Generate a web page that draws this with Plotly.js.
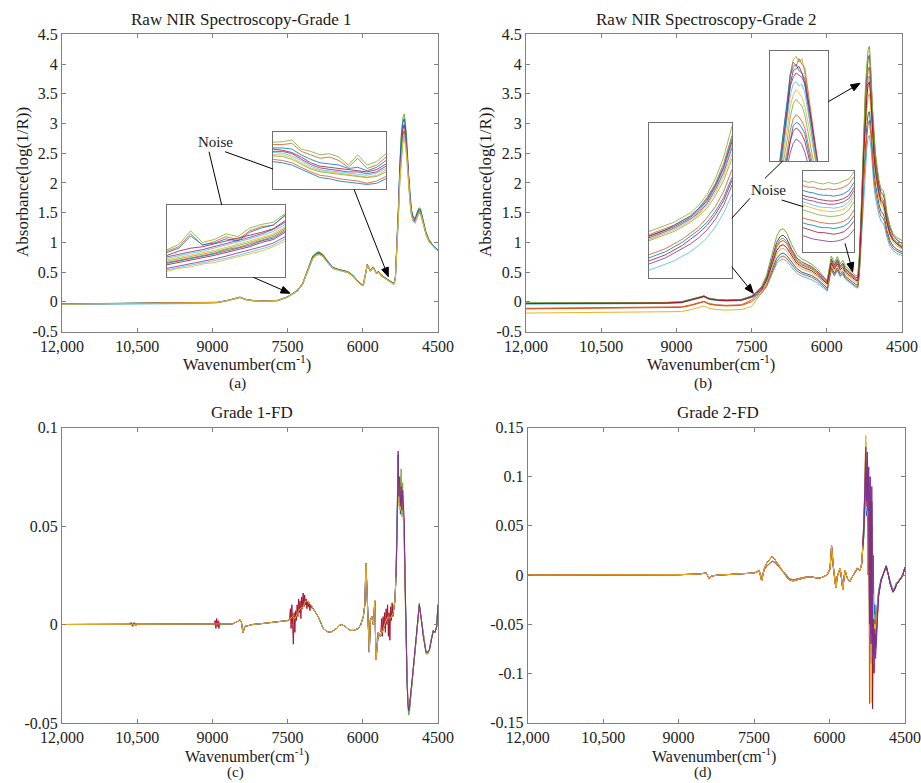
<!DOCTYPE html>
<html><head><meta charset="utf-8">
<script src="https://cdn.plot.ly/plotly-3.0.1.min.js"></script>
<style>html,body{margin:0;padding:0;background:#fff}</style>
</head><body><div id="chart" style="width:921px;height:783px"></div>
<script>
// ---------------- DATA ----------------
const X_TICK_VALS = [12000, 10500, 9000, 7500, 6000, 4500];
const X_TICK_TEXT = ['12,000', '10,500', '9000', '7500', '6000', '4500'];
const RAW_Y_TICK_VALS = [-0.5, 0, 0.5, 1, 1.5, 2, 2.5, 3, 3.5, 4, 4.5];
const RAW_Y_TICK_TEXT = ['-0.5', '0', '0.5', '1', '1.5', '2', '2.5', '3', '3.5', '4', '4.5'];
const C_Y_TICK_VALS = [-0.05, 0, 0.05, 0.1];
const C_Y_TICK_TEXT = ['-0.05', '0', '0.05', '0.1'];
const D_Y_TICK_VALS = [-0.15, -0.1, -0.05, 0, 0.05, 0.1, 0.15];
const D_Y_TICK_TEXT = ['-0.15', '-0.1', '-0.05', '0', '0.05', '0.1', '0.15'];

// wavenumbers (cm-1) for raw spectra
const WN_RAW = [12000, 11000, 10000, 9200, 8900, 8700, 8550, 8450, 8350, 8200,
  8000, 7700, 7500, 7400, 7300, 7200, 7100, 7000, 6930, 6870,
  6800, 6700, 6600, 6500, 6400, 6300, 6200, 6100, 6030, 5990,
  5950, 5910, 5850, 5790, 5730, 5680, 5630, 5560, 5480, 5420,
  5380, 5350, 5320, 5290, 5260, 5230, 5200, 5175, 5150, 5120,
  5090, 5060, 5030, 5000, 4960, 4920, 4880, 4850, 4800, 4740,
  4680, 4600, 4500];

// Grade 1 raw absorbance
const G1_S1 = [-0.035, -0.03, -0.025, -0.02, -0.008, 0.025, 0.055, 0.08, 0.045, 0.025,
  0.015, 0.025, 0.085, 0.135, 0.2, 0.31, 0.54, 0.77, 0.83, 0.84,
  0.8, 0.68, 0.58, 0.55, 0.53, 0.51, 0.45, 0.35, 0.3, 0.29,
  0.46, 0.63, 0.53, 0.59, 0.49, 0.51, 0.45, 0.41, 0.36, 0.32,
  0.31, 0.42, 0.9, 1.6, 2.35, 2.85, 3.1, 3.16, 3.02, 2.7,
  2.2, 1.82, 1.56, 1.45, 1.4, 1.5, 1.58, 1.57, 1.39, 1.18,
  1.05, 0.95, 0.87];
const G1_S2 = [-0.038, -0.033, -0.028, -0.023, -0.01, 0.022, 0.052, 0.077, 0.042, 0.022,
  0.012, 0.022, 0.082, 0.132, 0.195, 0.305, 0.53, 0.755, 0.815, 0.83,
  0.79, 0.67, 0.575, 0.545, 0.525, 0.505, 0.445, 0.345, 0.295, 0.285,
  0.455, 0.625, 0.525, 0.585, 0.485, 0.505, 0.445, 0.405, 0.355, 0.315,
  0.305, 0.41, 0.88, 1.56, 2.3, 2.78, 3.02, 3.08, 2.95, 2.63,
  2.16, 1.79, 1.53, 1.43, 1.38, 1.48, 1.56, 1.55, 1.37, 1.16,
  1.04, 0.945, 0.865];
const G1_S3 = [-0.04, -0.035, -0.03, -0.025, -0.012, 0.02, 0.05, 0.075, 0.04, 0.02,
  0.01, 0.02, 0.08, 0.13, 0.19, 0.3, 0.52, 0.74, 0.8, 0.815,
  0.78, 0.66, 0.57, 0.54, 0.52, 0.5, 0.44, 0.34, 0.29, 0.28,
  0.45, 0.62, 0.52, 0.58, 0.48, 0.5, 0.44, 0.4, 0.35, 0.31,
  0.3, 0.4, 0.85, 1.5, 2.2, 2.65, 2.9, 2.98, 2.85, 2.55,
  2.1, 1.75, 1.5, 1.4, 1.36, 1.45, 1.53, 1.52, 1.35, 1.15,
  1.03, 0.94, 0.86];
const G1_S4 = [-0.042, -0.037, -0.032, -0.027, -0.014, 0.018, 0.048, 0.073, 0.038, 0.018,
  0.008, 0.018, 0.078, 0.128, 0.185, 0.295, 0.51, 0.73, 0.79, 0.805,
  0.77, 0.655, 0.565, 0.535, 0.515, 0.495, 0.435, 0.335, 0.285, 0.275,
  0.445, 0.615, 0.515, 0.575, 0.475, 0.495, 0.435, 0.395, 0.345, 0.305,
  0.295, 0.39, 0.82, 1.45, 2.12, 2.55, 2.8, 2.88, 2.76, 2.48,
  2.05, 1.72, 1.48, 1.38, 1.34, 1.43, 1.51, 1.5, 1.33, 1.14,
  1.02, 0.935, 0.855];
const G1_S5 = [-0.045, -0.04, -0.035, -0.03, -0.016, 0.016, 0.046, 0.07, 0.036, 0.016,
  0.006, 0.016, 0.075, 0.125, 0.18, 0.29, 0.5, 0.72, 0.78, 0.795,
  0.76, 0.65, 0.56, 0.53, 0.51, 0.49, 0.43, 0.33, 0.28, 0.27,
  0.44, 0.61, 0.51, 0.57, 0.47, 0.49, 0.43, 0.39, 0.34, 0.3,
  0.29, 0.38, 0.8, 1.42, 2.07, 2.48, 2.73, 2.8, 2.69, 2.42,
  2.0, 1.69, 1.46, 1.36, 1.32, 1.41, 1.49, 1.48, 1.32, 1.13,
  1.01, 0.93, 0.85];
const G1_S6 = [-0.04, -0.035, -0.03, -0.025, -0.012, 0.02, 0.05, 0.074, 0.04, 0.02,
  0.01, 0.02, 0.08, 0.13, 0.19, 0.3, 0.51, 0.73, 0.785, 0.8,
  0.77, 0.655, 0.565, 0.535, 0.515, 0.495, 0.435, 0.335, 0.285, 0.278,
  0.448, 0.618, 0.518, 0.578, 0.478, 0.498, 0.438, 0.398, 0.348, 0.308,
  0.298, 0.39, 0.8, 1.4, 2.05, 2.45, 2.68, 2.74, 2.64, 2.38,
  1.98, 1.68, 1.46, 1.37, 1.34, 1.43, 1.51, 1.5, 1.33, 1.14,
  1.02, 0.935, 0.855];

// Grade 2 raw absorbance
const G2_S1 = [-0.02, -0.02, -0.015, -0.01, 0.0, 0.04, 0.07, 0.1, 0.06, 0.04,
  0.03, 0.04, 0.1, 0.17, 0.26, 0.45, 0.78, 1.1, 1.21, 1.23,
  1.16, 0.96, 0.8, 0.72, 0.68, 0.63, 0.56, 0.46, 0.39, 0.37,
  0.58, 0.77, 0.66, 0.76, 0.64, 0.7, 0.6, 0.55, 0.48, 0.44,
  0.45, 0.8, 1.4, 2.2, 3.0, 3.6, 4.0, 4.25, 4.3, 3.9,
  3.3, 2.85, 2.5, 2.3, 2.05, 1.9, 1.88, 1.8, 1.5, 1.28,
  1.15, 1.08, 1.03];
const G2_S2 = [-0.025, -0.025, -0.02, -0.015, -0.005, 0.035, 0.065, 0.095, 0.055, 0.035,
  0.025, 0.035, 0.09, 0.16, 0.24, 0.41, 0.71, 1.0, 1.1, 1.12,
  1.06, 0.88, 0.74, 0.67, 0.63, 0.59, 0.52, 0.43, 0.36, 0.34,
  0.54, 0.72, 0.62, 0.71, 0.6, 0.65, 0.56, 0.51, 0.45, 0.41,
  0.41, 0.74, 1.32, 2.1, 2.88, 3.47, 3.86, 4.1, 4.15, 3.78,
  3.2, 2.75, 2.42, 2.22, 1.98, 1.84, 1.81, 1.73, 1.45, 1.24,
  1.12, 1.04, 0.98];
const G2_S3 = [-0.11, -0.105, -0.1, -0.095, -0.085, -0.05, -0.02, 0.01, -0.03, -0.05,
  -0.06, -0.05, 0.03, 0.11, 0.2, 0.38, 0.65, 0.92, 1.01, 1.03,
  0.98, 0.82, 0.69, 0.62, 0.59, 0.55, 0.49, 0.4, 0.34, 0.32,
  0.5, 0.68, 0.58, 0.67, 0.57, 0.61, 0.53, 0.48, 0.42, 0.38,
  0.37, 0.69, 1.24, 1.98, 2.73, 3.3, 3.68, 3.9, 3.95, 3.62,
  3.05, 2.62, 2.32, 2.12, 1.9, 1.76, 1.72, 1.65, 1.38, 1.18,
  1.07, 1.0, 0.94];
const G2_S4 = [-0.03, -0.03, -0.025, -0.02, -0.01, 0.03, 0.06, 0.09, 0.05, 0.03,
  0.02, 0.03, 0.085, 0.14, 0.21, 0.36, 0.61, 0.86, 0.94, 0.96,
  0.91, 0.77, 0.65, 0.59, 0.56, 0.52, 0.46, 0.38, 0.32, 0.3,
  0.48, 0.65, 0.55, 0.64, 0.54, 0.58, 0.5, 0.46, 0.4, 0.36,
  0.35, 0.64, 1.16, 1.86, 2.56, 3.1, 3.45, 3.66, 3.7, 3.4,
  2.88, 2.48, 2.2, 2.0, 1.82, 1.69, 1.65, 1.58, 1.33, 1.14,
  1.04, 0.97, 0.91];
const G2_S5 = [-0.19, -0.185, -0.18, -0.175, -0.165, -0.13, -0.1, -0.07, -0.11, -0.13,
  -0.14, -0.13, -0.08, 0.04, 0.15, 0.32, 0.57, 0.8, 0.88, 0.9,
  0.85, 0.72, 0.61, 0.55, 0.52, 0.49, 0.43, 0.35, 0.29, 0.27,
  0.45, 0.62, 0.52, 0.61, 0.51, 0.55, 0.47, 0.43, 0.37, 0.33,
  0.32, 0.6, 1.1, 1.76, 2.42, 2.93, 3.26, 3.46, 3.5, 3.22,
  2.75, 2.38, 2.12, 1.93, 1.76, 1.63, 1.6, 1.52, 1.29, 1.11,
  1.01, 0.94, 0.89];
const G2_S6 = [-0.03, -0.03, -0.025, -0.02, -0.01, 0.03, 0.06, 0.09, 0.05, 0.03,
  0.02, 0.03, 0.08, 0.12, 0.18, 0.3, 0.52, 0.73, 0.8, 0.82,
  0.78, 0.66, 0.56, 0.5, 0.47, 0.44, 0.39, 0.31, 0.25, 0.23,
  0.41, 0.58, 0.48, 0.57, 0.47, 0.51, 0.43, 0.39, 0.33, 0.29,
  0.28, 0.54, 1.0, 1.6, 2.2, 2.68, 2.98, 3.16, 3.2, 2.95,
  2.55, 2.2, 1.98, 1.8, 1.64, 1.52, 1.49, 1.42, 1.2, 1.03,
  0.94, 0.88, 0.84];
const G2_S7 = [-0.04, -0.04, -0.035, -0.03, -0.02, 0.02, 0.05, 0.08, 0.04, 0.02,
  0.01, 0.02, 0.07, 0.1, 0.15, 0.25, 0.45, 0.64, 0.7, 0.72,
  0.68, 0.57, 0.48, 0.43, 0.4, 0.37, 0.32, 0.25, 0.2, 0.18,
  0.36, 0.53, 0.43, 0.52, 0.42, 0.46, 0.38, 0.34, 0.28, 0.24,
  0.23, 0.46, 0.88, 1.4, 1.92, 2.34, 2.6, 2.77, 2.8, 2.6,
  2.25, 1.95, 1.75, 1.6, 1.46, 1.36, 1.33, 1.27, 1.08, 0.93,
  0.86, 0.81, 0.78];
const G2_S8 = [-0.12, -0.115, -0.11, -0.105, -0.095, -0.06, -0.03, 0.0, -0.04, -0.06,
  -0.07, -0.06, 0.0, 0.07, 0.14, 0.27, 0.48, 0.68, 0.75, 0.77,
  0.73, 0.62, 0.52, 0.47, 0.44, 0.41, 0.36, 0.28, 0.22, 0.2,
  0.38, 0.55, 0.45, 0.54, 0.44, 0.48, 0.4, 0.36, 0.3, 0.26,
  0.25, 0.5, 0.94, 1.5, 2.06, 2.5, 2.8, 3.0, 3.05, 2.8,
  2.4, 2.08, 1.86, 1.7, 1.55, 1.44, 1.41, 1.35, 1.14, 0.98,
  0.9, 0.85, 0.81];
const G2_S9 = [-0.022, -0.022, -0.017, -0.012, -0.002, 0.038, 0.068, 0.098, 0.058, 0.038,
  0.028, 0.038, 0.095, 0.155, 0.23, 0.39, 0.67, 0.95, 1.05, 1.07,
  1.01, 0.85, 0.71, 0.64, 0.61, 0.57, 0.5, 0.41, 0.35, 0.33,
  0.52, 0.7, 0.6, 0.69, 0.58, 0.63, 0.54, 0.5, 0.43, 0.39,
  0.36, 0.66, 1.2, 1.92, 2.64, 3.18, 3.55, 3.76, 3.8, 3.5,
  2.96, 2.55, 2.26, 2.06, 1.86, 1.72, 1.68, 1.61, 1.35, 1.16,
  1.05, 0.98, 0.92];

// wavenumbers (cm-1) for first-derivative spectra
const WN_FD = [12000, 11000, 10000, 9000, 8600, 8500, 8450, 8420, 8390, 8350,
  8200, 8000, 7700, 7500, 7450, 7400, 7350, 7300, 7250, 7190,
  7140, 7090, 7040, 6990, 6940, 6890, 6840, 6790, 6720, 6650,
  6580, 6520, 6470, 6420, 6350, 6260, 6180, 6090, 6040, 5990,
  5960, 5936, 5915, 5890, 5870, 5850, 5820, 5790, 5760, 5737,
  5710, 5690, 5650, 5600, 5550, 5500, 5450, 5392, 5360, 5338,
  5315, 5295, 5280, 5265, 5250, 5235, 5220, 5205, 5190, 5175,
  5160, 5145, 5130, 5115, 5100, 5085, 5070, 5050, 5024, 4975,
  4925, 4873, 4830, 4793, 4739, 4700, 4673, 4630, 4593, 4560,
  4526, 4500];

// Grade 1 FD: shared part (12000-5338) and per-sample part (5315-4500)
const G1FD_HEAD = [0, 0, 0, 0, 0.0003, 0.0015, 0.0025, 0.001, -0.004, -0.001,
  0, 0.0005, 0.0012, 0.002, 0.003, 0.004, 0.003, 0.006, 0.008, 0.009,
  0.012, 0.0115, 0.01, 0.008, 0.006, 0.004, 0.001, -0.002, -0.0035, -0.004,
  -0.003, -0.002, -0.0005, 0, -0.001, -0.003, -0.003, -0.002, 0, 0.004,
  0.01, 0.031, 0.016, -0.002, -0.014, 0.002, 0.004, 0, 0.012, -0.018,
  -0.008, -0.004, -0.006, -0.003, 0.001, 0.004, 0.003, 0.006, 0.012, 0.024];
const G1FD_TAIL_RED = [0.046, 0.078, 0.062, 0.07, 0.058, 0.068, 0.056, 0.064, 0.054, 0.05,
  0.025, 0.0, -0.018, -0.03, -0.039, -0.042, -0.041, -0.037, -0.031, -0.018,
  -0.005, 0.01, 0.002, -0.006, -0.014, -0.014, -0.013, -0.007, -0.003, -0.004,
  -0.001, 0.01];
const G1FD_TAIL_GREEN = [0.044, 0.076, 0.07, 0.074, 0.065, 0.079, 0.06, 0.072, 0.058, 0.056,
  0.03, 0.004, -0.016, -0.031, -0.042, -0.046, -0.045, -0.039, -0.032, -0.019,
  -0.005, 0.011, 0.002, -0.006, -0.015, -0.015, -0.013, -0.007, -0.003, -0.004,
  -0.001, 0.01];
const G1FD_TAIL_BLUE = [0.05, 0.086, 0.062, 0.072, 0.056, 0.065, 0.055, 0.062, 0.055, 0.052,
  0.028, 0.002, -0.017, -0.03, -0.04, -0.044, -0.043, -0.038, -0.032, -0.018,
  -0.005, 0.01, 0.002, -0.006, -0.014, -0.014, -0.013, -0.007, -0.003, -0.004,
  -0.001, 0.01];
const G1FD_TAIL_PURPLE = [0.048, 0.088, 0.065, 0.075, 0.06, 0.07, 0.058, 0.068, 0.056, 0.054,
  0.026, 0.001, -0.018, -0.031, -0.04, -0.043, -0.042, -0.037, -0.031, -0.018,
  -0.005, 0.01, 0.002, -0.006, -0.014, -0.014, -0.013, -0.007, -0.003, -0.004,
  -0.001, 0.01];
const G1FD_TAIL_YELLOW = [0.045, 0.08, 0.06, 0.075, 0.058, 0.07, 0.055, 0.066, 0.052, 0.05,
  0.025, 0.0, -0.018, -0.03, -0.039, -0.042, -0.041, -0.037, -0.031, -0.018,
  -0.005, 0.01, 0.002, -0.006, -0.014, -0.014, -0.013, -0.007, -0.003, -0.004,
  -0.001, 0.01];
// noisy sample segments in Grade 1 FD
const G1FD_NOISE1_WN = [7460, 7445, 7430, 7415, 7400, 7385, 7370, 7355, 7340, 7325, 7310, 7295, 7280, 7265, 7250, 7235,
  7220, 7205, 7190, 7175, 7160, 7145, 7130, 7115, 7100, 7085, 7070, 7055, 7040, 7025, 7010];
const G1FD_NOISE1 = [0.003, 0.008, -0.002, 0.01, 0.0, -0.01, 0.006, -0.004, 0.007, 0.002, 0.01, 0.004, 0.013, 0.006, 0.012, 0.003,
  0.014, 0.008, 0.016, 0.009, 0.015, 0.01, 0.013, 0.008, 0.012, 0.009, 0.011, 0.007, 0.01, 0.008, 0.008];
const G1FD_NOISE2_WN = [5640, 5625, 5610, 5595, 5580, 5565, 5550, 5535, 5520, 5505, 5490, 5475, 5460, 5445, 5430, 5415, 5400, 5385];
const G1FD_NOISE2 = [-0.004, 0.003, -0.006, 0.004, -0.002, 0.006, -0.004, 0.008, 0.0, 0.01, -0.006, 0.006, -0.008, 0.009, 0.002, 0.011, 0.004, 0.008];
const G1FD_NOISE3_WN = [8960, 8945, 8930, 8915, 8900, 8885, 8870, 8855, 8840];
const G1FD_NOISE3 = [0.0, 0.002, -0.002, 0.003, -0.001, 0.002, -0.002, 0.001, 0.0];
const G1FD_NOISE4_WN = [10650, 10620, 10590, 10560, 10530, 10500];
const G1FD_NOISE4 = [0, 0.001, -0.001, 0.001, -0.0005, 0];

// Grade 2 FD: shared parts (12000-5338) and per-sample part (5315-4500)
const G2FD_HEAD_HI = [0, 0, 0, 0.0003, 0.001, 0.0015, 0.002, -0.001, -0.004, -0.001,
  0, 0.0005, 0.001, 0.002, 0.003, 0.005, -0.006, 0.006, 0.012, 0.016,
  0.019, 0.016, 0.012, 0.008, 0.004, 0.001, -0.003, -0.005, -0.006, -0.005,
  -0.004, -0.003, -0.002, -0.002, -0.002, -0.003, -0.003, -0.001, 0.001, 0.006,
  0.03, 0.012, 0.004, -0.008, -0.013, -0.002, 0.003, 0.007, -0.004, -0.015,
  -0.002, 0.005, -0.003, -0.007, -0.002, 0.002, 0.007, 0.005, 0.012, 0.03];
const G2FD_HEAD_LO = [0, 0, 0, 0.0003, 0.001, 0.0015, 0.002, -0.001, -0.004, -0.001,
  0, 0.0005, 0.001, 0.002, 0.003, 0.004, -0.003, 0.005, 0.009, 0.012,
  0.014, 0.013, 0.01, 0.007, 0.004, 0.001, -0.002, -0.004, -0.005, -0.004,
  -0.003, -0.002, -0.002, -0.002, -0.002, -0.003, -0.003, -0.001, 0.001, 0.006,
  0.028, 0.012, 0.004, -0.008, -0.012, -0.002, 0.003, 0.006, -0.004, -0.014,
  -0.002, 0.004, -0.003, -0.006, -0.002, 0.002, 0.006, 0.005, 0.011, 0.028];
const G2FD_TAIL_BLUE = [0.04, 0.07, 0.09, 0.06, 0.085, 0.055, 0.075, 0.05, 0.06, 0.03,
  0.045, -0.04, 0.02, -0.05, -0.03, -0.045, -0.035, -0.03, -0.015, -0.004,
  0.002, 0.008, 0.0, -0.008, -0.015, -0.012, -0.008, -0.006, -0.003, -0.002,
  0.003, 0.008];
const G2FD_TAIL_CYAN = [0.045, 0.08, 0.1, 0.065, 0.09, 0.06, 0.08, 0.04, 0.07, -0.01,
  0.04, -0.05, -0.02, -0.07, -0.04, -0.05, -0.04, -0.03, -0.017, -0.005,
  0.002, 0.007, 0.0, -0.008, -0.015, -0.012, -0.008, -0.006, -0.003, -0.002,
  0.003, 0.008];
const G2FD_TAIL_ORANGE = [0.05, 0.09, 0.11, 0.07, 0.1, 0.0, 0.09, -0.131, 0.06, -0.05,
  0.03, -0.08, -0.04, -0.06, -0.045, -0.05, -0.04, -0.03, -0.018, -0.005,
  0.003, 0.009, 0.0, -0.009, -0.016, -0.013, -0.009, -0.006, -0.003, -0.002,
  0.003, 0.008];
const G2FD_TAIL_GREEN = [0.05, 0.1, 0.135, 0.08, 0.12, 0.07, 0.1, -0.06, 0.09, -0.08,
  0.06, -0.1, -0.05, -0.09, -0.06, -0.07, -0.05, -0.035, -0.02, -0.005,
  0.002, 0.01, 0.0, -0.01, -0.018, -0.015, -0.01, -0.007, -0.004, -0.002,
  0.003, 0.008];
const G2FD_TAIL_RED = [0.055, 0.09, 0.12, 0.09, 0.11, 0.06, 0.1, -0.04, 0.08, -0.09,
  0.05, -0.136, -0.06, -0.1, -0.07, -0.075, -0.05, -0.035, -0.02, -0.005,
  0.002, 0.009, 0.0, -0.009, -0.017, -0.014, -0.01, -0.007, -0.004, -0.002,
  0.003, 0.008];
const G2FD_TAIL_YELLOW = [0.06, 0.11, 0.142, 0.1, 0.12, 0.06, 0.1, -0.02, 0.085, -0.13,
  0.07, -0.07, -0.03, -0.09, -0.05, -0.06, -0.045, -0.035, -0.02, -0.005,
  0.002, 0.008, 0.0, -0.008, -0.016, -0.013, -0.009, -0.006, -0.003, -0.002,
  0.003, 0.008];
const G2FD_TAIL_PURPLE2 = [0.05, 0.085, 0.115, 0.075, 0.105, 0.065, 0.095, -0.03, 0.085, -0.06,
  0.075, -0.075, -0.045, -0.08, -0.055, -0.075, -0.06, -0.04, -0.02, -0.005,
  0.002, 0.009, 0.0, -0.009, -0.017, -0.014, -0.01, -0.007, -0.004, -0.002,
  0.003, 0.008];
const G2FD_TAIL_PURPLE = [0.055, 0.095, 0.13, 0.09, 0.125, 0.08, 0.11, -0.05, 0.1, -0.07,
  0.09, -0.085, -0.05, -0.09, -0.06, -0.085, -0.07, -0.045, -0.022, -0.006,
  0.002, 0.009, 0.0, -0.009, -0.017, -0.014, -0.01, -0.007, -0.004, -0.002,
  0.003, 0.008];

// Inset (zoomed) views, relative absorbance within each zoom window
const INSET_A1_WN = [7700, 7675, 7650, 7625, 7600, 7575, 7550, 7525, 7500, 7475, 7450];
const INSET_A1_LINES = [
  [0.38, 0.45, 0.64, 0.48, 0.52, 0.6, 0.56, 0.68, 0.73, 0.76, 0.88],
  [0.36, 0.42, 0.6, 0.44, 0.49, 0.56, 0.52, 0.64, 0.7, 0.72, 0.85],
  [0.34, 0.4, 0.57, 0.45, 0.47, 0.53, 0.5, 0.62, 0.68, 0.72, 0.86],
  [0.3, 0.36, 0.4, 0.42, 0.46, 0.5, 0.53, 0.58, 0.62, 0.67, 0.78],
  [0.28, 0.32, 0.35, 0.38, 0.42, 0.46, 0.5, 0.55, 0.6, 0.66, 0.76],
  [0.26, 0.3, 0.33, 0.36, 0.4, 0.44, 0.48, 0.53, 0.58, 0.63, 0.73],
  [0.24, 0.27, 0.3, 0.33, 0.37, 0.41, 0.45, 0.5, 0.55, 0.6, 0.7],
  [0.22, 0.25, 0.29, 0.32, 0.35, 0.39, 0.43, 0.48, 0.53, 0.58, 0.68],
  [0.2, 0.23, 0.27, 0.3, 0.33, 0.38, 0.41, 0.46, 0.51, 0.56, 0.66],
  [0.19, 0.22, 0.25, 0.28, 0.32, 0.36, 0.4, 0.44, 0.5, 0.54, 0.64],
  [0.17, 0.2, 0.23, 0.26, 0.3, 0.34, 0.38, 0.42, 0.48, 0.52, 0.62],
  [0.12, 0.15, 0.18, 0.22, 0.25, 0.29, 0.33, 0.38, 0.42, 0.47, 0.56],
  [0.1, 0.13, 0.16, 0.2, 0.22, 0.26, 0.3, 0.34, 0.39, 0.44, 0.53],
  [0.08, 0.12, 0.14, 0.18, 0.2, 0.24, 0.28, 0.31, 0.36, 0.42, 0.5]];
const INSET_A2_WN = [5470, 5460, 5450, 5440, 5430, 5420, 5410, 5400, 5390, 5380, 5370, 5360, 5350];
const INSET_A2_LINES = [
  [0.82, 0.83, 0.86, 0.7, 0.66, 0.6, 0.62, 0.56, 0.42, 0.6, 0.42, 0.48, 0.62],
  [0.78, 0.78, 0.8, 0.66, 0.6, 0.54, 0.56, 0.5, 0.38, 0.54, 0.36, 0.42, 0.56],
  [0.72, 0.72, 0.7, 0.6, 0.52, 0.46, 0.44, 0.42, 0.36, 0.38, 0.32, 0.38, 0.5],
  [0.7, 0.68, 0.64, 0.56, 0.46, 0.4, 0.38, 0.36, 0.34, 0.33, 0.3, 0.34, 0.44],
  [0.66, 0.66, 0.62, 0.52, 0.43, 0.37, 0.35, 0.32, 0.3, 0.3, 0.27, 0.3, 0.4],
  [0.64, 0.63, 0.58, 0.5, 0.4, 0.34, 0.32, 0.3, 0.28, 0.27, 0.24, 0.28, 0.36],
  [0.6, 0.6, 0.55, 0.46, 0.37, 0.32, 0.3, 0.27, 0.25, 0.24, 0.21, 0.24, 0.33],
  [0.58, 0.57, 0.52, 0.44, 0.35, 0.3, 0.28, 0.25, 0.23, 0.22, 0.2, 0.22, 0.3],
  [0.52, 0.5, 0.46, 0.38, 0.3, 0.24, 0.22, 0.18, 0.16, 0.14, 0.1, 0.14, 0.22],
  [0.48, 0.46, 0.42, 0.35, 0.27, 0.2, 0.18, 0.14, 0.12, 0.1, 0.08, 0.1, 0.18]];
const INSET_B1_WN = [7650, 7620, 7590, 7560, 7530, 7500, 7470, 7440, 7410, 7380, 7350];
const INSET_B1_LINES = [
  [0.3, 0.32, 0.34, 0.36, 0.39, 0.42, 0.47, 0.54, 0.64, 0.78, 0.98],
  [0.28, 0.3, 0.32, 0.34, 0.37, 0.4, 0.45, 0.52, 0.61, 0.74, 0.92],
  [0.27, 0.29, 0.31, 0.34, 0.37, 0.4, 0.45, 0.51, 0.6, 0.72, 0.9],
  [0.27, 0.29, 0.31, 0.33, 0.36, 0.39, 0.44, 0.5, 0.59, 0.71, 0.88],
  [0.26, 0.28, 0.3, 0.32, 0.35, 0.38, 0.42, 0.48, 0.57, 0.68, 0.84],
  [0.25, 0.27, 0.3, 0.32, 0.35, 0.38, 0.43, 0.49, 0.58, 0.7, 0.86],
  [0.25, 0.27, 0.29, 0.31, 0.34, 0.37, 0.41, 0.47, 0.55, 0.66, 0.8],
  [0.24, 0.26, 0.28, 0.3, 0.33, 0.36, 0.4, 0.45, 0.53, 0.63, 0.77],
  [0.15, 0.17, 0.19, 0.22, 0.25, 0.29, 0.33, 0.39, 0.46, 0.56, 0.7],
  [0.13, 0.15, 0.17, 0.2, 0.23, 0.27, 0.31, 0.36, 0.43, 0.52, 0.65],
  [0.11, 0.13, 0.15, 0.18, 0.21, 0.25, 0.29, 0.34, 0.41, 0.5, 0.63],
  [0.09, 0.11, 0.13, 0.16, 0.19, 0.22, 0.26, 0.31, 0.38, 0.47, 0.6],
  [0.05, 0.07, 0.09, 0.11, 0.14, 0.17, 0.21, 0.26, 0.33, 0.42, 0.54]];
const INSET_B2_WN = [5230, 5210, 5190, 5180, 5170, 5160, 5150, 5140, 5130, 5110, 5090, 5070];
const INSET_B2_LINES = [
  [-0.3, 0.1, 0.55, 0.8, 0.92, 0.95, 0.9, 0.93, 0.8, 0.4, 0.0, -0.3],
  [-0.3, 0.05, 0.5, 0.78, 0.9, 0.86, 0.93, 0.88, 0.85, 0.45, 0.05, -0.3],
  [-0.3, 0.15, 0.6, 0.78, 0.85, 0.88, 0.82, 0.8, 0.7, 0.3, -0.05, -0.3],
  [-0.3, 0.0, 0.45, 0.7, 0.82, 0.84, 0.86, 0.8, 0.74, 0.42, 0.05, -0.3],
  [-0.3, 0.05, 0.48, 0.68, 0.76, 0.8, 0.78, 0.76, 0.7, 0.4, 0.02, -0.3],
  [-0.3, 0.0, 0.4, 0.6, 0.7, 0.72, 0.68, 0.7, 0.62, 0.3, -0.02, -0.3],
  [-0.3, -0.05, 0.3, 0.5, 0.6, 0.65, 0.62, 0.58, 0.5, 0.2, -0.1, -0.3],
  [-0.3, -0.1, 0.2, 0.4, 0.52, 0.56, 0.53, 0.5, 0.42, 0.12, -0.15, -0.3],
  [-0.3, -0.15, 0.1, 0.28, 0.38, 0.42, 0.4, 0.36, 0.3, 0.05, -0.2, -0.3],
  [-0.3, -0.2, 0.05, 0.2, 0.32, 0.35, 0.34, 0.3, 0.25, 0.0, -0.25, -0.3],
  [-0.3, -0.2, 0.02, 0.18, 0.27, 0.3, 0.28, 0.24, 0.18, -0.02, -0.25, -0.3],
  [-0.3, -0.25, -0.05, 0.08, 0.16, 0.2, 0.18, 0.15, 0.08, -0.1, -0.3, -0.3]];
const INSET_B3_WN = [5480, 5470, 5460, 5450, 5440, 5430, 5420, 5410, 5400, 5390, 5380];
const INSET_B3_LINES = [
  [0.88, 0.86, 0.87, 0.85, 0.84, 0.86, 0.84, 0.85, 0.88, 0.9, 0.99],
  [0.82, 0.8, 0.8, 0.78, 0.77, 0.78, 0.77, 0.78, 0.8, 0.84, 0.93],
  [0.76, 0.74, 0.73, 0.71, 0.7, 0.7, 0.69, 0.7, 0.72, 0.76, 0.86],
  [0.7, 0.68, 0.67, 0.65, 0.64, 0.63, 0.63, 0.64, 0.66, 0.7, 0.8],
  [0.66, 0.64, 0.63, 0.61, 0.6, 0.59, 0.59, 0.6, 0.62, 0.66, 0.76],
  [0.62, 0.6, 0.58, 0.56, 0.55, 0.55, 0.54, 0.55, 0.57, 0.62, 0.72],
  [0.58, 0.56, 0.54, 0.52, 0.51, 0.5, 0.5, 0.51, 0.53, 0.58, 0.68],
  [0.52, 0.5, 0.48, 0.46, 0.45, 0.44, 0.44, 0.45, 0.47, 0.52, 0.62],
  [0.42, 0.4, 0.39, 0.37, 0.36, 0.35, 0.35, 0.36, 0.38, 0.42, 0.52],
  [0.36, 0.34, 0.33, 0.31, 0.3, 0.3, 0.29, 0.3, 0.32, 0.36, 0.45],
  [0.3, 0.28, 0.26, 0.24, 0.24, 0.23, 0.22, 0.23, 0.25, 0.3, 0.38],
  [0.2, 0.18, 0.16, 0.15, 0.14, 0.13, 0.13, 0.14, 0.16, 0.2, 0.28]];

// ---------------- STYLE / LAYOUT ----------------
const FONT = 'Liberation Serif, Times New Roman, serif';
const C = {blue:'#0072BD', orange:'#D95319', yellow:'#EDB120', purple:'#7E2F8E', green:'#77AC30', cyan:'#4DBEEE', red:'#A2142F'};
const CYCLE = [C.blue, C.orange, C.yellow, C.purple, C.green, C.cyan, C.red];
const W = 921, H = 783;
const px = v => v / W, py = v => 1 - v / H;

function tr(x, y, color, xa, ya, w) {
  return {type:'scatter', mode:'lines', x:x, y:y, xaxis:xa, yaxis:ya,
          line:{color:color, width:w || 1}, hoverinfo:'skip', showlegend:false};
}
const traces = [];
// (a)
[[G1_S1, C.green], [G1_S2, C.blue], [G1_S3, C.purple], [G1_S4, C.orange], [G1_S5, C.cyan], [G1_S6, C.yellow]]
  .forEach(s => traces.push(tr(WN_RAW, s[0], s[1], 'x', 'y')));
// (b)
[[G2_S7, C.cyan], [G2_S6, C.blue], [G2_S8, C.orange], [G2_S5, C.yellow], [G2_S3, C.orange], [G2_S9, C.green],
 [G2_S2, C.purple], [G2_S1, C.green], [G2_S4, C.red]]
  .forEach(s => traces.push(tr(WN_RAW, s[0], s[1], 'x2', 'y2')));
// FD panels : shared region then per-sample region
const SPLIT = 59;
function fdPanel(series, xa, ya, headOrder, tailOrder, extra) {
  const full = series.map(s => ({y: s[0].concat(s[1]), c: s[2]}));
  headOrder.forEach(i => traces.push(tr(WN_FD.slice(0, SPLIT + 1), full[i].y.slice(0, SPLIT + 1), full[i].c, xa, ya)));
  if (extra) extra();
  tailOrder.forEach(i => traces.push(tr(WN_FD.slice(SPLIT), full[i].y.slice(SPLIT), full[i].c, xa, ya)));
}
// (c)
fdPanel([[G1FD_HEAD, G1FD_TAIL_RED, C.red], [G1FD_HEAD, G1FD_TAIL_GREEN, C.green], [G1FD_HEAD, G1FD_TAIL_BLUE, C.blue],
         [G1FD_HEAD, G1FD_TAIL_PURPLE, C.purple], [G1FD_HEAD, G1FD_TAIL_YELLOW, C.yellow]], 'x3', 'y3',
  [0, 1, 2, 3], [0, 1, 2, 4, 3], () => {
    [[G1FD_NOISE1_WN, G1FD_NOISE1], [G1FD_NOISE2_WN, G1FD_NOISE2], [G1FD_NOISE3_WN, G1FD_NOISE3], [G1FD_NOISE4_WN, G1FD_NOISE4]]
      .forEach(s => traces.push(tr(s[0], s[1], C.red, 'x3', 'y3')));
    traces.push(tr(WN_FD.slice(0, SPLIT + 1), G1FD_HEAD, C.yellow, 'x3', 'y3'));
  });
// (d)
fdPanel([[G2FD_HEAD_LO, G2FD_TAIL_BLUE, C.blue], [G2FD_HEAD_LO, G2FD_TAIL_CYAN, C.cyan], [G2FD_HEAD_LO, G2FD_TAIL_ORANGE, C.orange],
         [G2FD_HEAD_HI, G2FD_TAIL_GREEN, C.green], [G2FD_HEAD_HI, G2FD_TAIL_RED, C.red], [G2FD_HEAD_HI, G2FD_TAIL_PURPLE2, C.purple],
         [G2FD_HEAD_HI, G2FD_TAIL_PURPLE, C.purple], [G2FD_HEAD_HI, G2FD_TAIL_YELLOW, C.yellow]], 'x4', 'y4',
  [0, 1, 3, 4, 5, 2, 7], [0, 1, 2, 3, 4, 7, 5, 6]);
// insets
[[INSET_A1_WN, INSET_A1_LINES, 'x5', 'y5'], [INSET_A2_WN, INSET_A2_LINES, 'x6', 'y6'],
 [INSET_B1_WN, INSET_B1_LINES, 'x7', 'y7'], [INSET_B2_WN, INSET_B2_LINES, 'x8', 'y8'],
 [INSET_B3_WN, INSET_B3_LINES, 'x9', 'y9']].forEach(ins => {
  const order = [4, 1, 0, 6, 3, 5, 2];
  ins[1].forEach((ys, i) => traces.push(tr(ins[0], ys, CYCLE[order[i % 7]], ins[2], ins[3], 0.8)));
});

const AX = {showline:true, mirror:'ticks', linecolor:'#808080', linewidth:1, ticks:'inside', ticklen:4,
  tickcolor:'#808080', showgrid:false, zeroline:false, fixedrange:true,
  tickfont:{family:FONT, size:16, color:'#222'}};
function xAx(d, anchor) { return Object.assign({}, AX, {domain:d, anchor:anchor, range:[12000, 4500],
  tickmode:'array', tickvals:X_TICK_VALS, ticktext:X_TICK_TEXT}); }
function yAx(d, anchor, r, tv, tt) { return Object.assign({}, AX, {domain:d, anchor:anchor, range:r,
  tickmode:'array', tickvals:tv, ticktext:tt}); }
function inset(d, anchor, r) { return {domain:d, anchor:anchor, range:r, showline:true, mirror:true,
  linecolor:'#707070', linewidth:1, ticks:'', showticklabels:false, showgrid:false, zeroline:false, fixedrange:true}; }

const layout = {
  width:W, height:H, margin:{l:0, r:0, t:0, b:0}, paper_bgcolor:'#fff', plot_bgcolor:'rgba(0,0,0,0)',
  showlegend:false, font:{family:FONT, color:'#222'},
  xaxis: xAx([px(62), px(438)], 'y'),
  yaxis: yAx([py(331.5), py(34.3)], 'x', [-0.5, 4.5], RAW_Y_TICK_VALS, RAW_Y_TICK_TEXT),
  xaxis2: xAx([px(526), px(902)], 'y2'),
  yaxis2: yAx([py(331.5), py(34.3)], 'x2', [-0.5, 4.5], RAW_Y_TICK_VALS, RAW_Y_TICK_TEXT),
  xaxis3: xAx([px(62), px(438)], 'y3'),
  yaxis3: yAx([py(723), py(427.5)], 'x3', [-0.05, 0.1], C_Y_TICK_VALS, C_Y_TICK_TEXT),
  xaxis4: xAx([px(527.7), px(905)], 'y4'),
  yaxis4: yAx([py(722.5), py(427.5)], 'x4', [-0.15, 0.15], D_Y_TICK_VALS, D_Y_TICK_TEXT),
  xaxis5: inset([px(167), px(285)], 'y5', [7700, 7450]),
  yaxis5: inset([py(277), py(205)], 'x5', [0, 1]),
  xaxis6: inset([px(273), px(386)], 'y6', [5470, 5350]),
  yaxis6: inset([py(189), py(132)], 'x6', [0, 1]),
  xaxis7: inset([px(649), px(732)], 'y7', [7650, 7350]),
  yaxis7: inset([py(278), py(123)], 'x7', [0, 1]),
  xaxis8: inset([px(770), px(828)], 'y8', [5250, 5050]),
  yaxis8: inset([py(161), py(51)], 'x8', [0, 1]),
  xaxis9: inset([px(803), px(854)], 'y9', [5480, 5380]),
  yaxis9: inset([py(252), py(171)], 'x9', [0, 1]),
  shapes: [], annotations: []
};

function txt(t, x, y, size, angle) {
  layout.annotations.push({text:t, x:px(x), y:py(y), xref:'paper', yref:'paper', showarrow:false,
    xanchor:'center', yanchor:'middle', textangle:angle || 0, font:{family:FONT, size:size, color:'#1a1a1a'}});
}
function seg(x0, y0, x1, y1) {
  layout.shapes.push({type:'line', xref:'paper', yref:'paper', x0:px(x0), y0:py(y0), x1:px(x1), y1:py(y1),
    line:{color:'#000', width:1}});
}
function arrow(tx, ty, hx, hy) {
  const L = Math.hypot(hx - tx, hy - ty), dx = (hx - tx) / L, dy = (hy - ty) / L;
  const bx = hx - 9 * dx, by = hy - 9 * dy, nx = -dy, ny = dx;
  seg(tx, ty, bx, by);
  const pts = [[hx, hy], [bx + 3.5 * nx, by + 3.5 * ny], [bx - 3.5 * nx, by - 3.5 * ny]];
  layout.shapes.push({type:'path', xref:'paper', yref:'paper',
    path:'M' + pts.map(p => px(p[0]) + ',' + py(p[1])).join(' L') + ' Z',
    fillcolor:'#000', line:{color:'#000', width:1}});
}
txt('Raw NIR Spectroscopy-Grade 1', 241, 20, 17);
txt('Raw NIR Spectroscopy-Grade 2', 705.5, 20, 17);
txt('Grade 1-FD', 251.7, 412.7, 17);
txt('Grade 2-FD', 718, 412.7, 17);
txt('Wavenumber(cm<sup>-1</sup>)', 246.7, 363.5, 16.5);
txt('Wavenumber(cm<sup>-1</sup>)', 711, 363.5, 16.5);
txt('Wavenumber(cm<sup>-1</sup>)', 246.7, 755, 16);
txt('Wavenumber(cm<sup>-1</sup>)', 714, 755, 16);
txt('Absorbance(log(1/R))', 22, 182, 17, -90);
txt('Absorbance(log(1/R))', 485, 182, 17, -90);
txt('(a)', 237, 383, 15.5);
txt('(b)', 703, 383, 15.5);
txt('(c)', 235, 772.5, 15);
txt('(d)', 703, 772.5, 15);
txt('Noise', 215, 142, 15);
txt('Noise', 768, 190, 15);
// connectors (a)
seg(209, 151.7, 221.7, 205);
seg(225, 151.7, 273, 169);
arrow(253.3, 277.3, 290, 293.3);
arrow(354, 189.3, 388.3, 276.7);
// connectors (b)
seg(765, 178.3, 782.7, 161);
seg(750, 198.3, 731.7, 218.3);
seg(781.7, 200, 803.3, 206.7);
arrow(828.3, 101.7, 860, 83.3);
arrow(731.7, 266.7, 753.3, 293.3);
arrow(845, 243.3, 852.7, 271.7);

Plotly.newPlot('chart', traces, layout, {staticPlot:true, displayModeBar:false});
</script></body></html>
